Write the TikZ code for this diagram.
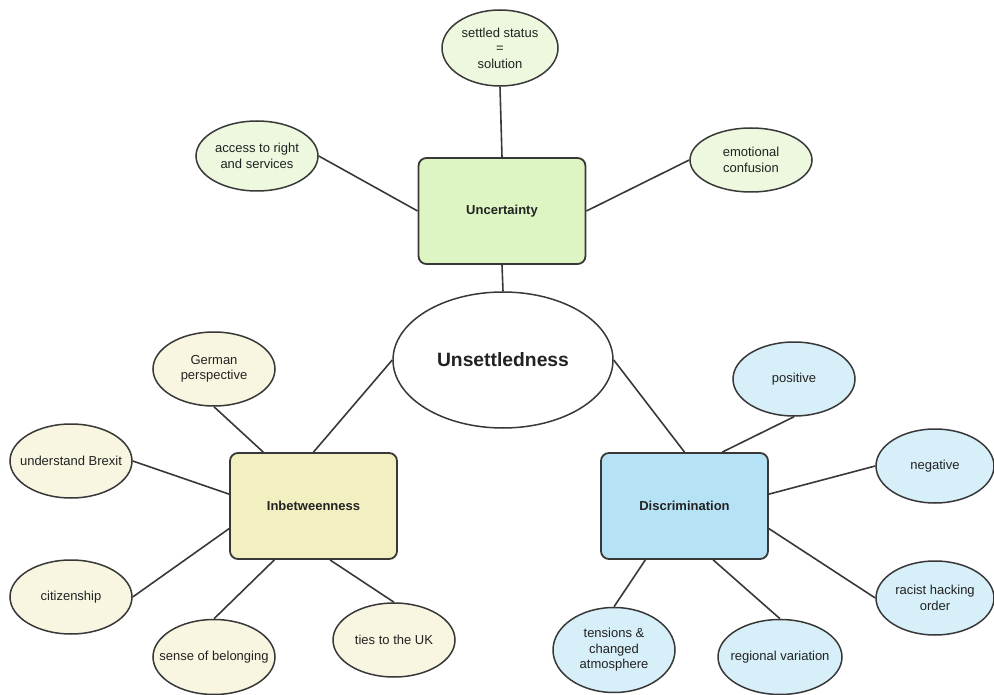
\documentclass[tikz,border=0pt]{standalone}
\usepackage{fontspec}
\setmainfont{Liberation Sans}
\usetikzlibrary{shapes.geometric}
\definecolor{edgecol}{HTML}{383838}
\definecolor{txtcol}{HTML}{222222}
\definecolor{gbox}{HTML}{DCF5C2}
\definecolor{gell}{HTML}{EDF8DE}
\definecolor{ybox}{HTML}{F2EFC1}
\definecolor{yell}{HTML}{F8F6E0}
\definecolor{bbox}{HTML}{B5E2F5}
\definecolor{bell}{HTML}{D6EFF9}
\tikzset{
  catbox/.style={draw=edgecol, line width=1.8pt, rounded corners=8pt, inner sep=0pt,
    minimum width=167pt, minimum height=106pt, text=txtcol,
    font=\fontsize{13}{15.5}\selectfont\bfseries},
  oval/.style={draw=edgecol, line width=1.5pt, ellipse, inner sep=0pt},
  lab/.style={align=center, text=txtcol, inner sep=0pt, font=\fontsize{13}{15.5}\selectfont},
  conn/.style={draw=edgecol, line width=1.6pt},
}
\begin{document}
\begin{tikzpicture}[x=1pt,y=-1pt]
\useasboundingbox (0,0) rectangle (994,695);
% central
\node[oval, fill=white, minimum width=220pt, minimum height=136pt,
  label={[lab, font=\fontsize{19.3}{22}\selectfont\bfseries]center:Unsettledness}] (uns) at (503,360) {};
% category boxes
\node[catbox, fill=gbox] (unc) at (502,211) {Uncertainty};
\node[catbox, fill=ybox] (inb) at (313.5,506) {Inbetweenness};
\node[catbox, fill=bbox] (dis) at (684.5,506) {Discrimination};
% uncertainty leaves
\node[oval, fill=gell, minimum width=116pt, minimum height=76pt,
  label={[lab]center:{settled status\\=\\solution}}] (set) at (500,48) {};
\node[oval, fill=gell, minimum width=122pt, minimum height=70pt,
  label={[lab]center:{access to right\\and services}}] (acc) at (257,156) {};
\node[oval, fill=gell, minimum width=122pt, minimum height=64pt,
  label={[lab]center:{emotional\\confusion}}] (emo) at (751,160) {};
% inbetweenness leaves
\node[oval, fill=yell, minimum width=122pt, minimum height=74pt,
  label={[lab]center:{German\\perspective}}] (ger) at (214,369) {};
\node[oval, fill=yell, minimum width=122pt, minimum height=74pt,
  label={[lab]center:{understand Brexit}}] (brx) at (71,461) {};
\node[oval, fill=yell, minimum width=122pt, minimum height=74pt,
  label={[lab]center:{citizenship}}] (cit) at (71,597) {};
\node[oval, fill=yell, minimum width=122pt, minimum height=75pt,
  label={[lab]center:{sense of belonging}}] (bel) at (214,657) {};
\node[oval, fill=yell, minimum width=122pt, minimum height=74pt,
  label={[lab]center:{ties to the UK}}] (tie) at (394,640) {};
% discrimination leaves
\node[oval, fill=bell, minimum width=122pt, minimum height=74pt,
  label={[lab]center:{positive}}] (pos) at (794,379) {};
\node[oval, fill=bell, minimum width=118pt, minimum height=74pt,
  label={[lab]center:{negative}}] (neg) at (935,466) {};
\node[oval, fill=bell, minimum width=118pt, minimum height=74pt,
  label={[lab]center:{racist hacking\\order}}] (rac) at (935,598) {};
\node[oval, fill=bell, minimum width=122pt, minimum height=85pt,
  label={[lab]center:{tensions \&\\changed\\atmosphere}}] (ten) at (614,650) {};
\node[oval, fill=bell, minimum width=124pt, minimum height=75pt,
  label={[lab]center:{regional variation}}] (reg) at (780,657) {};
% connectors
\draw[conn] (set.south) -- (unc.north);
\draw[conn] (unc.south) -- (uns.north);
\draw[conn] (acc.east) -- (unc.west);
\draw[conn] (unc.east) -- (emo.west);
\draw[conn] (uns.west) -- (inb.north);
\draw[conn] (uns.east) -- (dis.north);
\draw[conn] (ger.south) -- (inb.133);
\draw[conn] (brx.east) -- (inb.172);
\draw[conn] (cit.east) -- (inb.195);
\draw[conn] (bel.north) -- (inb.234);
\draw[conn] (tie.north) -- (inb.287);
\draw[conn] (pos.south) -- (dis.55);
\draw[conn] (neg.west) -- (dis.8);
\draw[conn] (rac.west) -- (dis.345);
\draw[conn] (ten.north) -- (dis.234);
\draw[conn] (reg.north) -- (dis.298);
\end{tikzpicture}
\end{document}
